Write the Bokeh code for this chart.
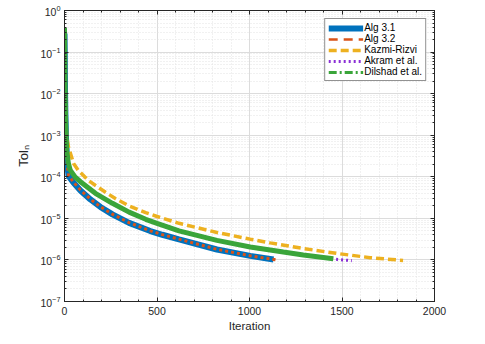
import numpy as np
from bokeh.plotting import figure
from bokeh.models import (LogAxis, LinearAxis, Legend, LegendItem, Range1d,
                          SingleIntervalTicker, LogTicker)
from bokeh.embed import file_html
from bokeh.resources import INLINE

# ---- data ----
n_a31 = [0, 1, 2, 3, 5, 8, 12, 16, 22, 49, 86, 140, 194, 259, 349, 464, 529, 619, 824, 1004, 1130]
tol_a31 = [0.28, 0.1, 0.03, 0.01, 3e-3, 9e-4, 3.6e-4, 1.8e-4, 1.05e-4, 7.2e-5, 4.7e-5, 2.85e-5, 1.88e-5,
           1.25e-5, 7.8e-6, 4.95e-6, 4.03e-6, 3.13e-6, 1.78e-6, 1.25e-6, 1.02e-6]

n_a32 = [0, 1, 2, 3, 5, 8, 12, 16, 22, 49, 86, 140, 194, 259, 349, 464, 529, 619, 824, 1004, 1145]
tol_a32 = [0.25, 0.09, 0.028, 0.009, 2.8e-3, 8.5e-4, 3.4e-4, 1.75e-4, 1.07e-4, 7.4e-5, 4.8e-5, 2.9e-5, 1.9e-5,
           1.26e-5, 7.9e-6, 5.0e-6, 4.07e-6, 3.16e-6, 1.8e-6, 1.26e-6, 1.0e-6]

n_kr = [0, 1, 2, 3, 5, 8, 12, 22, 49, 76, 130, 184, 220, 277, 349, 439, 500, 619, 824, 1004, 1112,
        1291, 1474, 1652, 1830]
tol_kr = [0.3, 0.12, 0.04, 0.015, 5e-3, 2e-3, 9e-4, 5.1e-4, 2.1e-4, 1.4e-4, 8.1e-5, 5.5e-5, 4.3e-5, 2.95e-5,
          2.0e-5, 1.38e-5, 1.11e-5, 7.6e-6, 4.57e-6, 3.16e-6, 2.57e-6, 1.88e-6, 1.43e-6, 1.135e-6, 9.7e-7]

n_ak = [0, 1, 2, 3, 5, 8, 12, 20, 31, 58, 86, 167, 259, 349, 439, 500, 619, 824, 1004, 1183, 1291, 1453, 1553]
tol_ak = [0.3, 0.1, 0.035, 0.012, 3.5e-3, 1.0e-3, 4.0e-4, 2.1e-4, 1.4e-4, 9.3e-5, 7.4e-5, 3.9e-5, 2.25e-5,
          1.38e-5, 9.3e-6, 7.4e-6, 4.9e-6, 2.9e-6, 2.0e-6, 1.52e-6, 1.29e-6, 1.05e-6, 9.6e-7]

n_di = [0, 1, 2, 3, 5, 8, 12, 20, 31, 58, 86, 167, 259, 349, 439, 500, 619, 824, 1004, 1183, 1291, 1453]
tol_di = [0.38, 0.15, 0.05, 0.015, 4e-3, 1.1e-3, 4.3e-4, 2.2e-4, 1.45e-4, 9.8e-5, 7.6e-5, 4.0e-5, 2.3e-5,
          1.41e-5, 9.5e-6, 7.6e-6, 5.0e-6, 2.95e-6, 2.04e-6, 1.55e-6, 1.32e-6, 1.07e-6]

series_names = ["Alg 3.1", "Alg 3.2", "Kazmi-Rizvi", "Akram et al.", "Dilshad et al."]

C_BLUE = "#0072BD"
C_ORANGE = "#D95319"
C_YELLOW = "#EDB120"
C_PURPLE = "#8B2FD6"
C_GREEN = "#3AA53A"
AX = "#262626"
FONT = "Liberation Sans"

p = figure(frame_width=370, frame_height=291, y_axis_type="log",
           x_range=Range1d(0, 2000), y_range=Range1d(1e-7, 1),
           output_backend="svg", toolbar_location=None,
           min_border_left=64, min_border_right=35, min_border_top=10, min_border_bottom=35)
p.background_fill_color = "white"
p.border_fill_color = "white"
p.outline_line_color = AX
p.outline_line_width = 1

p.xaxis[0].ticker = SingleIntervalTicker(interval=500, num_minor_ticks=5)
p.yaxis[0].ticker = LogTicker(desired_num_ticks=8, num_minor_ticks=10)
for ax in (p.xaxis[0], p.yaxis[0]):
    ax.axis_line_color = AX
    ax.major_tick_line_color = AX
    ax.minor_tick_line_color = AX
    ax.major_tick_in = 4
    ax.major_tick_out = 0
    ax.minor_tick_in = 2
    ax.minor_tick_out = 0
    ax.major_label_text_font = FONT
    ax.major_label_text_font_size = "10.5px"
    ax.major_label_text_color = AX
p.xaxis[0].major_label_standoff = 5
p.xaxis[0].axis_label = "Iteration"
p.xaxis[0].axis_label_text_font = FONT
p.xaxis[0].axis_label_text_font_size = "11.5px"
p.xaxis[0].axis_label_text_font_style = "normal"
p.xaxis[0].axis_label_text_color = AX
p.xaxis[0].axis_label_standoff = 2
p.yaxis[0].major_label_standoff = 4
p.yaxis[0].axis_label = "Tolₙ"
p.yaxis[0].axis_label_text_font = FONT
p.yaxis[0].axis_label_text_font_size = "13px"
p.yaxis[0].axis_label_text_font_style = "normal"
p.yaxis[0].axis_label_text_color = AX
p.yaxis[0].axis_label_standoff = 6

# mirrored axes (ticks only, labels invisible)
ax_r = LogAxis(ticker=LogTicker(desired_num_ticks=8, num_minor_ticks=10))
ax_t = LinearAxis(ticker=SingleIntervalTicker(interval=500, num_minor_ticks=5))
for ax in (ax_r, ax_t):
    ax.axis_line_color = AX
    ax.major_tick_line_color = AX
    ax.minor_tick_line_color = AX
    ax.major_tick_in = 4
    ax.major_tick_out = 0
    ax.minor_tick_in = 2
    ax.minor_tick_out = 0
    ax.major_label_text_font_size = "1px"
    ax.major_label_text_alpha = 0
    ax.major_label_standoff = 0
p.add_layout(ax_r, "right")
p.add_layout(ax_t, "above")

# grids
p.xgrid.ticker = SingleIntervalTicker(interval=500, num_minor_ticks=5)
p.grid.grid_line_color = "#DCDCDC"
p.grid.grid_line_width = 1
p.grid.minor_grid_line_color = "#E2E2E2"
p.grid.minor_grid_line_dash = "1 2"
p.grid.minor_grid_line_width = 1

# legend proxies (hidden under the wider curves)
g2 = p.line(n_a32, tol_a32, line_color=C_ORANGE, line_width=2.5, line_dash="9 6")
g5 = p.line(n_di, tol_di, line_color=C_GREEN, line_width=3, line_dash="8 3 2 3")

# curves
r1 = p.line(n_a31, tol_a31, line_color=C_BLUE, line_width=6)
r2 = p.line(n_a32, tol_a32, line_color=C_ORANGE, line_width=3, line_dash="3 3")
r3 = p.line(n_kr, tol_kr, line_color=C_YELLOW, line_width=3.5, line_dash="8 4")
r4 = p.line(n_ak, tol_ak, line_color=C_PURPLE, line_width=3, line_dash="2 3")
r5 = p.line(n_di, tol_di, line_color=C_GREEN, line_width=5)

legend = Legend(items=[LegendItem(label=series_names[i], renderers=[g])
                       for i, g in enumerate([r1, g2, r3, r4, g5])],
                location="top_right")
legend.label_text_font = FONT
legend.label_text_font_size = "10px"
legend.label_text_color = "black"
legend.glyph_width = 35
legend.glyph_height = 10
legend.label_height = 10
legend.spacing = 0
legend.padding = 3
legend.margin = 8
legend.label_standoff = 1
legend.border_line_color = AX
legend.border_line_width = 1
legend.background_fill_alpha = 1
p.add_layout(legend)

open("out.html", "w").write(file_html(p, INLINE))
